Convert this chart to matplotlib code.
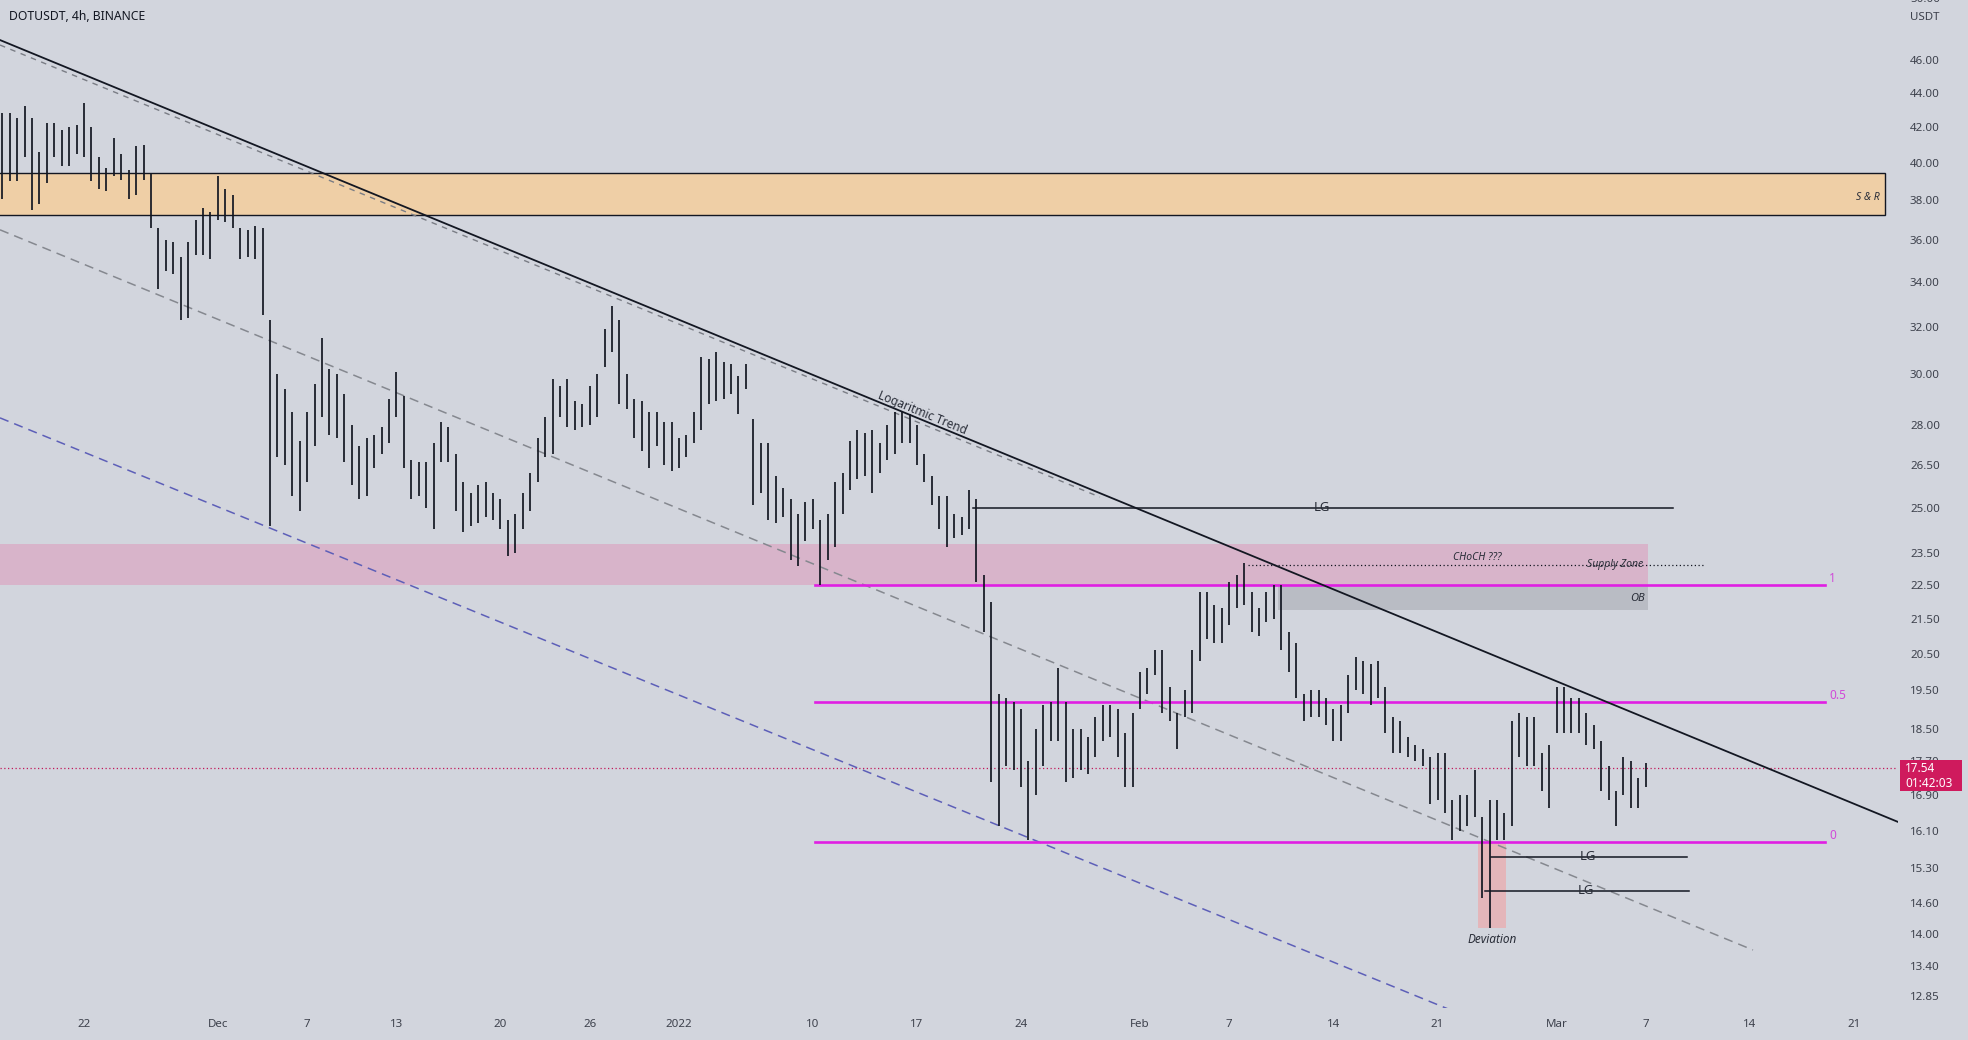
import math
import numpy as np
import pandas as pd
import matplotlib
matplotlib.use('Agg')
import matplotlib.pyplot as plt
from matplotlib.patches import Rectangle
from matplotlib.ticker import FixedLocator, FixedFormatter, NullLocator

plt.rcParams['font.family'] = ['Noto Sans', 'DejaVu Sans']

BG = '#d2d5dd'
TXT = '#2a2e39'
BAR = '#131722'
FIB = '#e01fe3'

# DOTUSDT bars, one every 12h starting 2021-11-16 12:00
bar_high = [42.8, 42.8, 42.5, 43.2, 42.5, 40.6, 42.2, 42.2, 41.8, 42.0,
            42.1, 43.4, 42.0, 40.3, 39.7, 41.4, 40.5, 39.6, 40.9, 41.0,
            39.4, 36.6, 36.0, 35.9, 35.2, 35.9, 37.0, 37.6, 37.4, 39.3,
            38.6, 38.3, 36.6, 36.5, 36.7, 36.6, 32.3, 30.0, 29.4, 28.5,
            27.4, 28.5, 29.6, 31.5, 30.2, 30.0, 29.2, 28.0, 27.2, 27.5,
            27.6, 27.9, 29.0, 30.1, 29.1, 26.7, 26.6, 26.6, 27.3, 28.1,
            27.9, 26.9, 25.9, 25.5, 25.8, 25.9, 25.5, 25.3, 24.6, 24.8,
            25.5, 26.2, 27.5, 28.3, 29.8, 29.5, 29.8, 28.9, 28.8, 29.5,
            30.0, 31.9, 32.9, 32.3, 30.0, 29.0, 28.9, 28.5, 28.5, 28.1,
            28.1, 27.5, 27.6, 28.5, 30.7, 30.6, 30.9, 30.5, 30.4, 29.9,
            30.4, 28.2, 27.3, 27.3, 26.1, 25.7, 25.3, 24.8, 25.2, 25.3,
            24.6, 24.8, 25.9, 26.2, 27.4, 27.8, 27.7, 27.8, 27.3, 28.0,
            28.5, 28.5, 28.4, 28.0, 26.9, 26.1, 25.4, 25.4, 24.8, 24.7,
            25.6, 25.3, 22.8, 22.0, 19.4, 19.3, 19.2, 19.0, 17.7, 18.5,
            19.1, 19.2, 20.1, 19.2, 18.5, 18.5, 18.3, 18.8, 19.1, 19.1,
            19.0, 18.4, 18.9, 20.0, 20.1, 20.6, 20.6, 19.6, 18.9, 19.5,
            20.6, 22.3, 22.3, 21.9, 21.8, 22.6, 22.8, 23.2, 22.3, 21.8,
            22.3, 22.5, 22.5, 21.1, 20.8, 19.4, 19.5, 19.5, 19.3, 19.0,
            19.1, 19.9, 20.4, 20.3, 20.2, 20.3, 19.6, 18.8, 18.7, 18.3,
            18.1, 18.0, 17.8, 17.9, 17.9, 16.8, 16.9, 16.9, 17.5, 16.4,
            16.8, 16.8, 16.5, 18.7, 18.9, 18.8, 18.8, 17.9, 18.1, 19.6,
            19.6, 19.3, 19.3, 18.9, 18.6, 18.2, 17.6, 17.0, 17.8, 17.7,
            17.3, 17.65]
bar_low = [38.1, 39.0, 39.0, 40.3, 37.5, 37.8, 38.9, 40.3, 39.8, 39.8,
           40.5, 40.3, 39.0, 38.6, 38.5, 39.3, 39.1, 38.1, 38.3, 39.1,
           36.6, 33.7, 34.5, 34.4, 32.3, 32.4, 35.3, 35.3, 35.1, 37.0,
           36.9, 36.6, 35.1, 35.2, 35.1, 32.5, 24.4, 26.8, 26.5, 25.4,
           24.9, 25.9, 27.2, 28.3, 27.6, 27.5, 26.6, 25.8, 25.3, 25.4,
           26.4, 26.9, 27.3, 28.3, 26.4, 25.3, 25.4, 25.0, 24.3, 26.6,
           26.6, 24.9, 24.2, 24.4, 24.5, 24.7, 24.6, 24.3, 23.4, 23.5,
           24.3, 24.9, 25.9, 26.8, 26.9, 28.3, 27.9, 27.8, 27.9, 28.0,
           28.3, 30.3, 30.9, 28.8, 28.6, 27.5, 27.0, 26.4, 27.2, 26.5,
           26.3, 26.4, 26.8, 27.3, 27.8, 28.8, 28.9, 29.0, 29.2, 28.4,
           29.4, 25.1, 25.5, 24.6, 24.5, 24.7, 23.3, 23.1, 23.9, 24.3,
           22.5, 23.3, 23.7, 24.8, 25.6, 26.0, 26.1, 25.5, 26.2, 26.7,
           26.9, 27.3, 27.3, 26.5, 25.9, 25.1, 24.3, 23.7, 24.0, 24.1,
           24.3, 22.6, 21.1, 17.2, 16.2, 17.6, 17.5, 17.1, 15.9, 16.9,
           17.6, 18.2, 18.2, 17.2, 17.3, 17.5, 17.4, 17.8, 18.2, 18.3,
           17.8, 17.1, 17.1, 19.0, 19.4, 19.9, 18.9, 18.7, 18.0, 18.8,
           18.9, 20.3, 20.9, 20.8, 20.8, 21.3, 21.8, 21.9, 21.1, 21.0,
           21.4, 21.5, 20.6, 20.0, 19.3, 18.7, 18.8, 18.8, 18.6, 18.2,
           18.2, 18.9, 19.5, 19.4, 19.1, 19.3, 18.4, 17.9, 17.9, 17.8,
           17.7, 17.6, 16.7, 16.8, 16.5, 15.9, 16.1, 16.2, 16.4, 14.7,
           14.1, 15.9, 15.9, 16.2, 17.8, 17.6, 17.6, 17.0, 16.6, 18.4,
           18.4, 18.4, 18.4, 18.1, 18.0, 17.0, 16.8, 16.2, 16.9, 16.6,
           16.6, 17.1]
last_price = 17.54
countdown = '01:42:03'

price_ticks = [50.0, 46.0, 44.0, 42.0, 40.0, 38.0, 36.0, 34.0, 32.0, 30.0,
               28.0, 26.5, 25.0, 23.5, 22.5, 21.5, 20.5, 19.5, 18.5, 17.7,
               16.9, 16.1, 15.3, 14.6, 14.0, 13.4, 12.85]
# days counted from 2022-01-01
date_ticks = [-40, -31, -25, -19, -12, -6, 0, 9, 16, 23, 31, 37, 44, 51, 59, 65, 72, 79]
date_labels = ['22', 'Dec', '7', '13', '20', '26', '2022', '10', '17', '24',
               'Feb', '7', '14', '21', 'Mar', '7', '14', '21']

sr_zone = (37.26, 39.45)
supply_zone = (22.50, 23.80)
ob_zone = (21.76, 22.50)
fib_levels = [('1', 22.50), ('0.5', 19.18), ('0', 15.86)]
lg_levels = [(19.8, 66.8, 25.0, 43.2), (54.6, 67.8, 15.54, 61.1), (54.2, 67.9, 14.84, 61.0)]
choch_level = 23.13
deviation = (14.11, 15.86)

XMIN, XMAX = -45.65, 81.96
YMIN, YMAX = 12.65, 49.93


def bar_days(n):
    times = pd.date_range('2021-11-16 12:00', periods=n, freq='12h')
    return ((times - pd.Timestamp('2022-01-01')) / pd.Timedelta(days=1)).values


def draw_box(ax, x0, x1, lo, hi, color, **kw):
    ax.add_patch(Rectangle((x0, lo), x1 - x0, hi - lo, facecolor=color, **kw))


fig = plt.figure(figsize=(19.68, 10.40), dpi=100, facecolor=BG)
ax = fig.add_axes([0, 32 / 1040, 1898 / 1968, 1008 / 1040])
ax.set_facecolor(BG)
ax.set_yscale('log')
ax.set_xlim(XMIN, XMAX)
ax.set_ylim(YMIN, YMAX)
for s in ax.spines.values():
    s.set_visible(False)

# zones
draw_box(ax, -50, 81.09, sr_zone[0], sr_zone[1], '#efcfa6', edgecolor='#131722', linewidth=1, zorder=1)
ax.text(80.75, 38.16, 'S & R', ha='right', va='center', fontsize=7.5, style='italic', color=TXT, zorder=2)
draw_box(ax, -50, 65.15, supply_zone[0], supply_zone[1], '#d8b4ca', edgecolor='none', zorder=1)
draw_box(ax, 40.27, 65.15, ob_zone[0], ob_zone[1], '#b9bcc4', edgecolor='none', zorder=1)
ax.text(64.95, 22.1, 'OB', ha='right', va='center', fontsize=8, style='italic', color=TXT, zorder=2)
draw_box(ax, 53.72, 55.6, deviation[0], deviation[1], '#e4b6ba', edgecolor='none', zorder=1)
ax.text(54.66, 13.88, 'Deviation', ha='center', va='center', fontsize=8.5, style='italic', color=TXT)

# channel lines
ax.plot([XMIN, 72.21], [36.51, 13.69], color='#85888f', lw=1.1, dashes=(6, 4), zorder=2)
ax.plot([XMIN, 51.84], [28.26, 12.62], color='#5d5fb8', lw=1.1, dashes=(6, 4), zorder=2)
ax.plot([XMIN, 28.3], [46.96, 25.37], color='#7a7d85', lw=1.0, dashes=(4, 4), zorder=2)
trend_x, trend_y = [XMIN, 82.1], [47.28, 16.28]
ax.plot(trend_x, trend_y, color=BAR, lw=1.3, zorder=4)

# fib levels
for name, lvl in fib_levels:
    ax.plot([9.14, 77.05], [lvl, lvl], color=FIB, lw=1.9, zorder=3)
    ax.annotate(name, xy=(77.05, lvl), xytext=(3, 5), textcoords='offset points',
                ha='left', va='center', fontsize=8.5, color='#d04ad8')

# liquidity grabs
for x0, x1, lvl, xt in lg_levels:
    ax.plot([x0, x1], [lvl, lvl], color=BAR, lw=1.1, zorder=3)
    ax.text(xt, lvl, 'LG', ha='center', va='center', fontsize=9.5, color=TXT, zorder=4)

ax.plot([38.26, 68.99], [choch_level, choch_level], color=BAR, lw=0.9, ls=(0, (1, 2)), zorder=3)
ax.text(62.93, choch_level, 'Supply Zone', ha='center', va='center', fontsize=7.5,
        style='italic', color=TXT, zorder=4)
ax.text(53.65, 23.37, 'CHoCH ???', ha='center', va='center', fontsize=7.5, style='italic', color=TXT)

# price bars
x = bar_days(len(bar_high))
ax.vlines(x, bar_low, bar_high, color=BAR, lw=1.25, zorder=5)

# current price
ax.axhline(last_price, color='#c2185b', lw=0.9, ls=(0, (1, 2)), zorder=3)

# axes ticks
ax.yaxis.tick_right()
ax.yaxis.set_major_locator(FixedLocator(price_ticks))
ax.yaxis.set_major_formatter(FixedFormatter(['%.2f' % p for p in price_ticks]))
ax.yaxis.set_minor_locator(NullLocator())
ax.tick_params(axis='y', length=0, pad=8.6, labelsize=8.3, labelcolor='#3d414c')
ax.set_xticks(date_ticks)
ax.set_xticklabels(date_labels)
ax.tick_params(axis='x', length=0, pad=8, labelsize=8.3, labelcolor='#3d414c')

# rotated trend label
p1 = ax.transData.transform((trend_x[0], trend_y[0]))
p2 = ax.transData.transform((trend_x[1], trend_y[1]))
ang = math.degrees(math.atan2(p2[1] - p1[1], p2[0] - p1[0]))
ax.text(16.2, 28.21, 'Logaritmic Trend', rotation=ang, rotation_mode='anchor',
        ha='center', va='bottom', fontsize=8.5, color=TXT, zorder=4,
        transform_rotates_text=False)

# price label on the scale
y_pix = ax.transData.transform((0, last_price))[1]
fig.patches.append(Rectangle((1900 / 1968, (y_pix - 23) / 1040), 62 / 1968, 31 / 1040,
                             transform=fig.transFigure, facecolor='#cf1a5d',
                             edgecolor='none', zorder=5))
fig.text(1905 / 1968, y_pix / 1040, '%.2f' % last_price, color='white', fontsize=8.5,
         fontweight='bold', va='center', ha='left', zorder=6)
fig.text(1905 / 1968, (y_pix - 15) / 1040, countdown, color='white', fontsize=8.5,
         va='center', ha='left', zorder=6)

fig.text(9 / 1968, 1 - 16 / 1040, 'DOTUSDT, 4h, BINANCE', fontsize=8.8, fontweight='bold',
         color=BAR, va='center', ha='left')
# top scale label is cut by the frame
fig.text(1910 / 1968, 1 + 1 / 1040, '%.2f' % price_ticks[0], fontsize=8.3, color='#3d414c',
         va='center', ha='left')
fig.text(1910 / 1968, 1 - 17 / 1040, 'USDT', fontsize=8.3, color='#3d414c', va='center', ha='left')

fig.savefig('out.png', dpi=100, facecolor=BG)
